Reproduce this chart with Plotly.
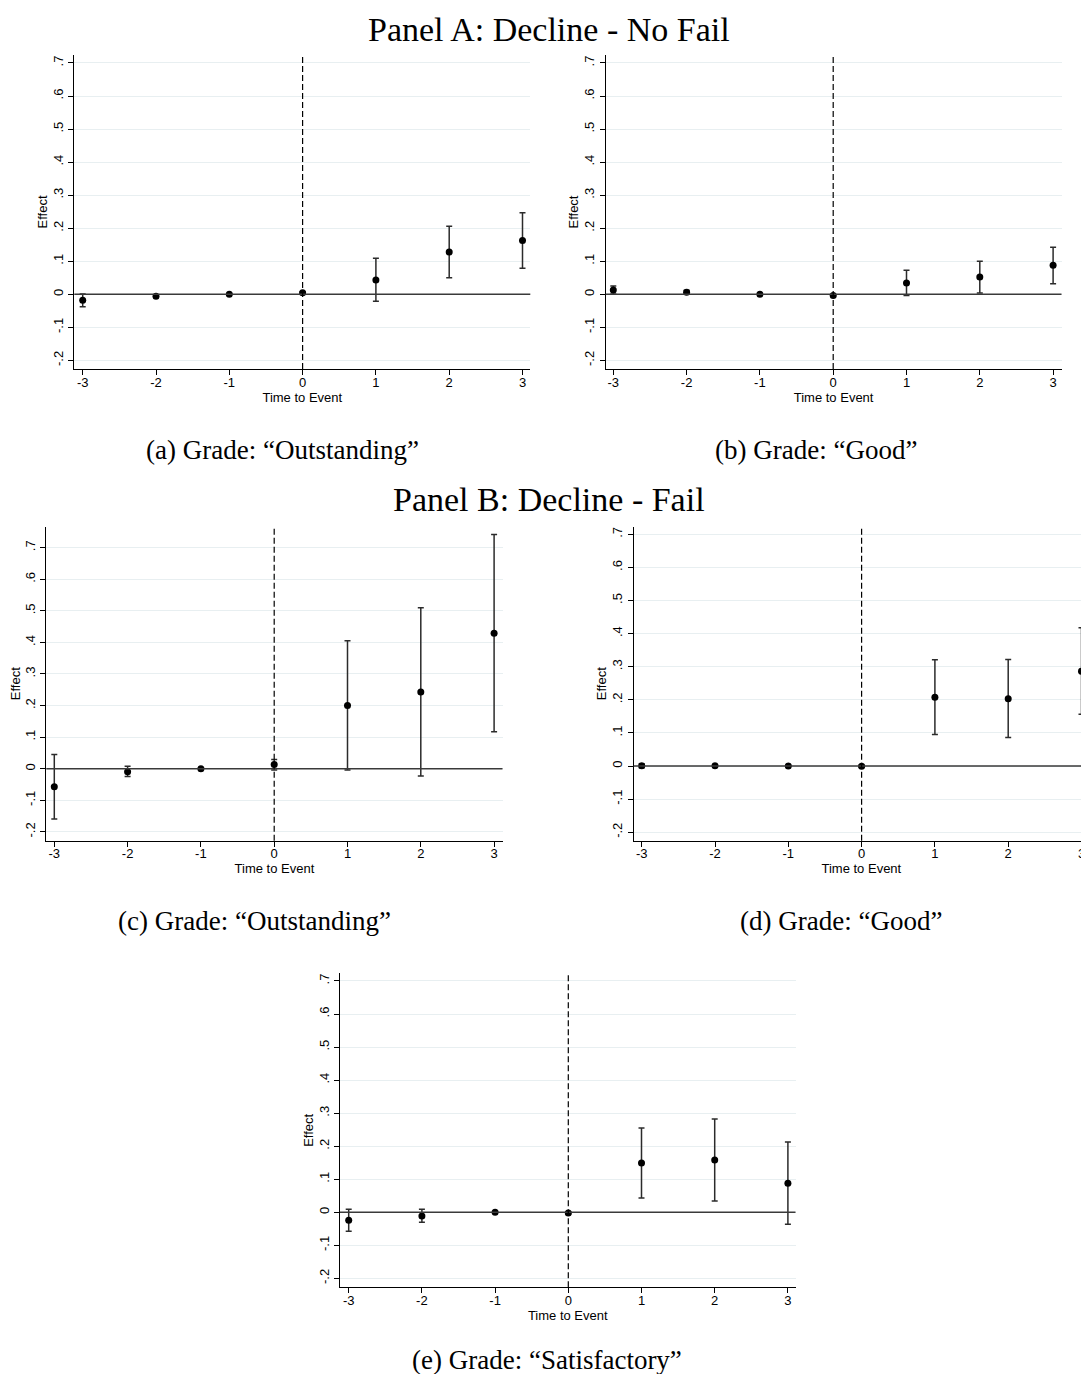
import plotly.graph_objects as go

# The page body has an 8px default margin; the figure is sized/offset to compensate.
PAGE_W, PAGE_H, BODY = 1089, 1382, 8
W, H = PAGE_W - BODY, PAGE_H - 2 * BODY

# ---------------- data ----------------
event_time = [-3, -2, -1, 0, 1, 2, 3]
x_tick_text = ["-3", "-2", "-1", "0", "1", "2", "3"]
y_tick_vals = [-0.2, -0.1, 0.0, 0.1, 0.2, 0.3, 0.4, 0.5, 0.6, 0.7]
y_tick_text = ["-.2", "-.1", "0", ".1", ".2", ".3", ".4", ".5", ".6", ".7"]

# Panel A (a): Decline - No Fail, Grade "Outstanding"
a_effect = [-0.018, -0.006, 0.000, 0.005, 0.043, 0.128, 0.163]
a_upper = [0.001, -0.002, 0.000, 0.008, 0.109, 0.206, 0.247]
a_lower = [-0.038, -0.010, 0.000, 0.002, -0.021, 0.050, 0.079]

# Panel A (b): Decline - No Fail, Grade "Good"
b_effect = [0.013, 0.006, 0.000, -0.004, 0.034, 0.052, 0.088]
b_upper = [0.025, 0.012, 0.000, -0.001, 0.073, 0.100, 0.142]
b_lower = [0.001, 0.001, 0.000, -0.007, -0.004, 0.004, 0.032]

# Panel B (c): Decline - Fail, Grade "Outstanding"
c_effect = [-0.057, -0.010, 0.000, 0.013, 0.200, 0.243, 0.429]
c_upper = [0.045, 0.008, 0.000, 0.029, 0.405, 0.510, 0.742]
c_lower = [-0.159, -0.025, 0.000, -0.004, -0.004, -0.023, 0.117]

# Panel B (d): Decline - Fail, Grade "Good"
d_effect = [0.001, 0.001, 0.000, -0.001, 0.208, 0.203, 0.286]
d_upper = [0.007, 0.004, 0.000, 0.002, 0.321, 0.322, 0.418]
d_lower = [-0.005, -0.002, 0.000, -0.004, 0.095, 0.086, 0.156]

# Panel B (e): Decline - Fail, Grade "Satisfactory"
e_effect = [-0.024, -0.011, 0.000, -0.002, 0.149, 0.158, 0.088]
e_upper = [0.009, 0.009, 0.000, 0.001, 0.255, 0.282, 0.213]
e_lower = [-0.057, -0.030, 0.000, -0.005, 0.043, 0.034, -0.036]

panel_title_a = "Panel A: Decline - No Fail"
panel_title_b = "Panel B: Decline - Fail"
captions = ["(a) Grade: \u201cOutstanding\u201d", "(b) Grade: \u201cGood\u201d",
            "(c) Grade: \u201cOutstanding\u201d", "(d) Grade: \u201cGood\u201d",
            "(e) Grade: \u201cSatisfactory\u201d"]
x_title = "Time to Event"
y_title = "Effect"

# ---------------- layout geometry (page pixels) ----------------
# left, right, top, bottom, px of x=-3, px per x unit, px of y=0, px per 0.1
geoms = [
    dict(l=74.3, r=530.3, t=55.0, b=369.0, xm3=82.7, xu=73.3, y0=294.3, yu=33.05),
    dict(l=605.7, r=1061.5, t=55.0, b=369.0, xm3=613.3, xu=73.3, y0=294.3, yu=33.05),
    dict(l=46.3, r=502.5, t=526.7, b=840.7, xm3=54.3, xu=73.3, y0=768.7, yu=31.57),
    dict(l=633.7, r=1089.0, t=526.7, b=840.7, xm3=641.7, xu=73.3, y0=766.0, yu=33.1),
    dict(l=340.0, r=795.5, t=973.3, b=1287.3, xm3=348.7, xu=73.2, y0=1212.3, yu=33.05),
]
series = [
    (a_effect, a_upper, a_lower),
    (b_effect, b_upper, b_lower),
    (c_effect, c_upper, c_lower),
    (d_effect, d_upper, d_lower),
    (e_effect, e_upper, e_lower),
]


def px_x(x):
    return min(max((x - BODY) / W, 0.0), 1.0)


def px_y(y):
    return min(max(1 - (y - BODY) / H, 0.0), 1.0)


SANS = "Liberation Sans, Arial, sans-serif"
SERIF = "Liberation Serif, Times New Roman, serif"

fig = go.Figure()
layout_axes = {}
shapes = []

for i, (g, (eff, up, lo)) in enumerate(zip(geoms, series)):
    n = i + 1
    xa = "x" if n == 1 else f"x{n}"
    ya = "y" if n == 1 else f"y{n}"
    xkey = "xaxis" if n == 1 else f"xaxis{n}"
    ykey = "yaxis" if n == 1 else f"yaxis{n}"

    xr = [-3 + (g["l"] - g["xm3"]) / g["xu"], -3 + (g["r"] - g["xm3"]) / g["xu"]]
    yr = [(g["y0"] - g["b"]) / g["yu"] * 0.1, (g["y0"] - g["t"]) / g["yu"] * 0.1]

    layout_axes[xkey] = dict(
        domain=[px_x(g["l"]), px_x(g["r"])], anchor=ya, range=xr,
        tickvals=event_time, ticktext=x_tick_text, ticks="outside", ticklen=5,
        tickwidth=1, tickcolor="black", showline=True, linecolor="black",
        linewidth=1.2, showgrid=False, zeroline=False, ticklabelstandoff=-4,
        tickfont=dict(family=SANS, size=13, color="black"),
        title=dict(text=x_title, font=dict(family=SANS, size=13, color="black"), standoff=2),
        fixedrange=True,
    )
    layout_axes[ykey] = dict(
        domain=[px_y(g["b"]), px_y(g["t"])], anchor=xa, range=yr,
        tickvals=y_tick_vals, ticktext=y_tick_text, ticks="outside", ticklen=5,
        tickwidth=1, tickcolor="black", tickangle=-90, showline=True,
        linecolor="black", linewidth=1.2, showgrid=True, gridcolor="#e8eff1",
        gridwidth=1, zeroline=False,
        tickfont=dict(family=SANS, size=13, color="black"),
        title=dict(text=y_title, font=dict(family=SANS, size=13, color="black"), standoff=0),
        fixedrange=True,
    )

    err_plus = [u - e for u, e in zip(up, eff)]
    err_minus = [e - l for e, l in zip(eff, lo)]
    fig.add_trace(go.Scatter(
        x=event_time, y=eff, mode="markers", xaxis=xa, yaxis=ya,
        marker=dict(color="black", size=7, symbol="circle"),
        error_y=dict(type="data", symmetric=False, array=err_plus,
                     arrayminus=err_minus, color="#2b2b2b", thickness=1.5, width=3),
        showlegend=False, hoverinfo="skip",
    ))

    # zero reference line
    shapes.append(dict(type="line", xref=f"{xa} domain", yref=ya, x0=0, x1=1, y0=0, y1=0,
                       line=dict(color="#3a3a3a", width=1.6), layer="above"))
    # event-time dashed line
    shapes.append(dict(type="line", xref=xa, yref=f"{ya} domain", x0=0, x1=0, y0=0, y1=1,
                       line=dict(color="black", width=1.2, dash="6px,3px"), layer="above"))

annotations = []


def add_text(text, cx, cy, size):
    annotations.append(dict(text=text, x=px_x(cx), y=px_y(cy), xref="paper", yref="paper",
                            showarrow=False, xanchor="center", yanchor="middle",
                            font=dict(family=SERIF, size=size, color="black")))


add_text(panel_title_a, 549, 30, 34)
add_text(captions[0], 282, 450, 27)
add_text(captions[1], 816, 450, 27)
add_text(panel_title_b, 549, 500, 34)
add_text(captions[2], 254, 921, 27)
add_text(captions[3], 841, 921, 27)
add_text(captions[4], 547, 1360, 27)

fig.update_layout(
    width=W, height=H, margin=dict(l=0, r=0, t=0, b=0),
    paper_bgcolor="white", plot_bgcolor="white",
    shapes=shapes, annotations=annotations, showlegend=False,
    **layout_axes,
)

fig.write_html("out.html", config={"displayModeBar": False})
